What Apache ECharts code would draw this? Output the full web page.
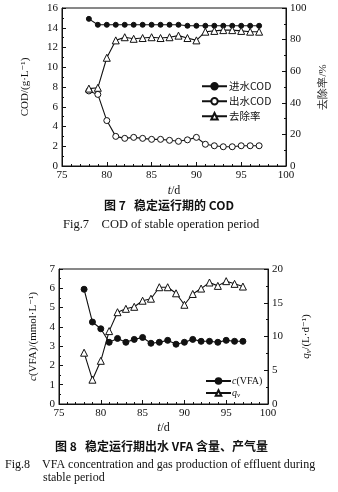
<!DOCTYPE html>
<html>
<head>
<meta charset="utf-8">
<script src="https://cdn.jsdelivr.net/npm/echarts@6/dist/echarts.min.js"></script>
<style>
  html, body { margin: 0; padding: 0; background: #fff; }
  #chart { width: 338px; height: 492px; }
</style>
</head>
<body>
<div id="chart"></div>
<script>
// Days of the stable operation period
const days = [78, 79, 80, 81, 82, 83, 84, 85, 86, 87, 88, 89, 90, 91, 92, 93, 94, 95, 96, 97];

// Fig.7 — COD (g/L) and removal rate (%)
const influentCOD = [14.9, 14.3, 14.3, 14.3, 14.3, 14.3, 14.3, 14.3, 14.3, 14.3, 14.3, 14.2, 14.2, 14.2, 14.2, 14.2, 14.2, 14.2, 14.2, 14.2];
const effluentCOD = [7.6, 7.25, 4.6, 3.0, 2.8, 2.9, 2.8, 2.7, 2.7, 2.6, 2.5, 2.65, 2.9, 2.2, 2.05, 1.95, 1.95, 2.05, 2.05, 2.05];
const removalRate = [49, 49.5, 68.5, 79.5, 81.5, 80.5, 81, 81.5, 81, 81.5, 82.5, 81, 79.5, 85, 85.5, 86, 86, 85.5, 85, 85];

// Fig.8 — VFA concentration (mmol/L) and gas production (L/d)
const vfa = [5.95, 4.25, 3.9, 3.2, 3.4, 3.2, 3.35, 3.45, 3.15, 3.2, 3.3, 3.1, 3.2, 3.35, 3.25, 3.25, 3.2, 3.3, 3.25, 3.25];
const gasRate = [7.6, 3.6, 6.4, 10.8, 13.6, 14.1, 14.4, 15.3, 15.6, 17.3, 17.3, 16.4, 14.7, 16.3, 17.1, 18.0, 17.5, 18.2, 17.8, 17.4];

// Axis ranges and tick steps
const xRange = [75, 100, 5];
const codRange = [0, 16, 2];
const rateRange = [0, 100, 20];
const vfaRange = [0, 7, 1];
const gasRange = [0, 20, 5];

const SERIF = '"Liberation Serif", "DejaVu Serif", serif';
const CJK = '"Noto Sans CJK SC", sans-serif';
const INK = '#111';

function pairs(ys) { return days.map((d, i) => [d, ys[i]]); }

function xAxisOf(gridIndex, gap) {
  return {
    type: 'value', gridIndex: gridIndex,
    min: xRange[0], max: xRange[1], interval: xRange[2],
    name: '{i|t}{n|/d}', nameLocation: 'middle', nameGap: gap,
    nameTextStyle: { rich: {
      i: { fontFamily: SERIF, fontStyle: 'italic', fontSize: 12, color: INK },
      n: { fontFamily: SERIF, fontSize: 12, color: INK } } },
    axisLine: { show: true, lineStyle: { color: INK, width: 1 } },
    axisTick: { show: true, inside: true, length: 4, lineStyle: { color: INK } },
    minorTick: { show: true, splitNumber: 5, length: 2, lineStyle: { color: INK } },
    splitLine: { show: false },
    axisLabel: { fontFamily: SERIF, fontSize: 11, color: INK, margin: 4 }
  };
}

function yAxisOf(gridIndex, range, pos, name, gap, rich) {
  return {
    type: 'value', gridIndex: gridIndex, position: pos,
    min: range[0], max: range[1], interval: range[2],
    name: name, nameLocation: 'middle', nameGap: gap,
    nameTextStyle: { fontFamily: SERIF, fontSize: 11, color: INK, rich: rich || {} },
    axisLine: { show: true, onZero: false, lineStyle: { color: INK, width: 1 } },
    axisTick: { show: true, inside: true, length: 4, lineStyle: { color: INK } },
    minorTick: { show: true, splitNumber: 2, length: 2, lineStyle: { color: INK } },
    splitLine: { show: false },
    axisLabel: { fontFamily: SERIF, fontSize: 11, color: INK, margin: 4 }
  };
}

function lineSeries(name, xi, yi, data, symbol, filled, size) {
  return {
    name: name, type: 'line', xAxisIndex: xi, yAxisIndex: yi,
    data: pairs(data), symbol: symbol, symbolSize: size,
    showAllSymbol: true,
    lineStyle: { color: INK, width: 1.1 },
    itemStyle: { color: filled ? INK : '#fff', borderColor: INK, borderWidth: 1 },
    emphasis: { disabled: true },
    z: 3
  };
}

const chart = echarts.init(document.getElementById('chart'), null, { renderer: 'canvas' });

chart.setOption({
  backgroundColor: '#fff',
  animation: false,
  grid: [
    { left: 62, right: 52, top: 8, bottom: 326, show: true, borderColor: INK, borderWidth: 1 },
    { left: 59, right: 70, top: 269, bottom: 88, show: true, borderColor: INK, borderWidth: 1 }
  ],
  xAxis: [xAxisOf(0, 19), xAxisOf(1, 18)],
  yAxis: [
    yAxisOf(0, codRange, 'left', 'COD/(g·L⁻¹)', 31),
    yAxisOf(0, rateRange, 'right', '去除率/%', 27),
    yAxisOf(1, vfaRange, 'left', '{i|c}(VFA)/(mmol·L⁻¹)', 19,
      { i: { fontFamily: SERIF, fontStyle: 'italic', fontSize: 11, color: INK } }),
    yAxisOf(1, gasRange, 'right', '{i|q}{s|v}/(L·d⁻¹)', 31,
      { i: { fontFamily: SERIF, fontStyle: 'italic', fontSize: 11, color: INK },
        s: { fontFamily: SERIF, fontStyle: 'italic', fontSize: 8, color: INK, verticalAlign: 'bottom', padding: [6, 0, 0, 0] } })
  ],
  legend: [
    {
      data: ['进水COD', '出水COD', '去除率'],
      orient: 'vertical', left: 196, top: 76,
      itemWidth: 25, itemHeight: 8, itemGap: 4.5,
      textStyle: { fontFamily: CJK, fontSize: 10.5, color: INK, padding: [0, 0, 0, -3] },
      selectedMode: false
    },
    {
      data: ['c(VFA)', 'qv'],
      orient: 'vertical', left: 200, top: 371,
      itemWidth: 25, itemHeight: 7, itemGap: 2,
      formatter: function (n) { return n === 'qv' ? '{i|q}{s|v}' : '{i|c}{n|(VFA)}'; },
      textStyle: { fontFamily: SERIF, fontSize: 10, color: INK, padding: [0, 0, 0, -4],
        rich: {
          i: { fontFamily: SERIF, fontStyle: 'italic', fontSize: 10, color: INK },
          n: { fontFamily: SERIF, fontSize: 10, color: INK },
          s: { fontFamily: SERIF, fontStyle: 'italic', fontSize: 7, color: INK, padding: [4, 0, 0, 0] }
        } },
      selectedMode: false
    }
  ],
  series: [
    lineSeries('进水COD', 0, 0, influentCOD, 'circle', true, 5),
    lineSeries('出水COD', 0, 0, effluentCOD, 'circle', false, 6),
    lineSeries('去除率', 0, 1, removalRate, 'triangle', false, 7),
    lineSeries('c(VFA)', 1, 2, vfa, 'circle', true, 6),
    lineSeries('qv', 1, 3, gasRate, 'triangle', false, 7)
  ],
  graphic: [
    { type: 'text', left: 'center', top: 199,
      style: { text: '图 7   稳定运行期的 COD', font: 'bold 12px "Noto Sans CJK SC", sans-serif', fill: INK } },
    { type: 'text', left: 63, top: 218,
      style: { text: 'Fig.7    COD of stable operation period', font: '12.5px "Liberation Serif", serif', fill: INK } },
    { type: 'text', left: 55, top: 440,
      style: { text: '图 8   稳定运行期出水 VFA 含量、产气量', font: 'bold 12px "Noto Sans CJK SC", sans-serif', fill: INK } },
    { type: 'text', left: 5, top: 459,
      style: { text: 'Fig.8    VFA concentration and gas production of effluent during', font: '12px "Liberation Serif", serif', fill: INK } },
    { type: 'text', left: 43, top: 472,
      style: { text: 'stable period', font: '12px "Liberation Serif", serif', fill: INK } }
  ]
});
</script>
</body>
</html>
